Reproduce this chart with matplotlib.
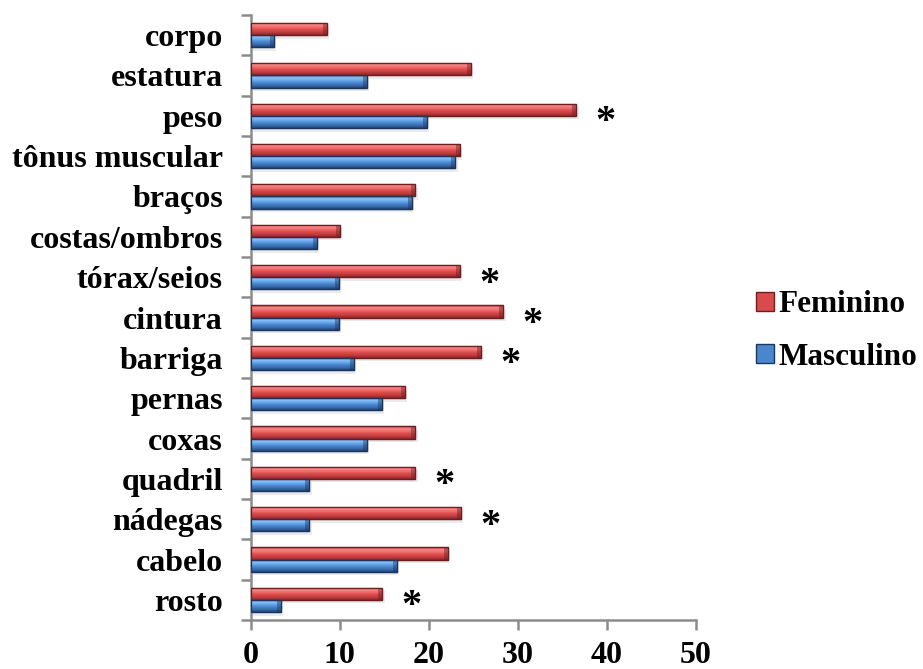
import numpy as np
import matplotlib
matplotlib.use("Agg")
import matplotlib.pyplot as plt
from matplotlib.colors import LinearSegmentedColormap
from matplotlib.patches import Patch

plt.rcParams['font.family'] = ['Liberation Serif', 'DejaVu Serif']
plt.rcParams['font.weight'] = 'bold'

categories = ["corpo", "estatura", "peso", "tônus muscular", "braços",
              "costas/ombros", "tórax/seios", "cintura", "barriga", "pernas",
              "coxas", "quadril", "nádegas", "cabelo", "rosto"]
feminino = [8.6, 24.7, 36.6, 23.5, 18.5, 10.0, 23.5, 28.4, 25.9, 17.3,
            18.5, 18.5, 23.6, 22.2, 14.8]
masculino = [2.6, 13.1, 19.8, 23.0, 18.1, 7.4, 9.9, 9.9, 11.6, 14.7,
             13.1, 6.6, 6.6, 16.4, 3.4]
significant = ["peso", "tórax/seios", "cintura", "barriga", "quadril",
               "nádegas", "rosto"]
x_ticks = [0, 10, 20, 30, 40, 50]

# vertical shading for the bevelled bars (top -> bottom)
red_cmap = LinearSegmentedColormap.from_list(
    "red3d", ["#b8383a", "#f58a88", "#f26a6a", "#d84a4c", "#c03c3e", "#8a2628"])
blue_cmap = LinearSegmentedColormap.from_list(
    "blue3d", ["#3d6fb0", "#8cc4f8", "#6aaaf0", "#4a86cc", "#3a6eae", "#22447a"])

fig = plt.figure(figsize=(9.23, 6.69), dpi=100)
ax = fig.add_axes([0.2716, 0.0732, 0.7537 - 0.2716, 0.9776 - 0.0732])

y = np.arange(len(categories))
h = 0.3


def shaded_bars(ypos, values, cmap, edge):
    grad = np.linspace(0, 1, 64).reshape(-1, 1)
    # soft shadow under each bar
    ax.barh(ypos + 0.09, values, height=h, left=0.25, color="#000000",
            alpha=0.08, linewidth=0, zorder=1)
    bars = ax.barh(ypos, values, height=h, color=cmap(0.5), edgecolor=edge,
                   linewidth=0.9, zorder=2)
    for b in bars:
        x0, yb = b.get_x(), b.get_y()
        w, hh = b.get_width(), b.get_height()
        im = ax.imshow(grad, cmap=cmap, aspect="auto",
                       extent=(x0, x0 + w, yb + hh, yb), zorder=3,
                       interpolation="bilinear")
        im.set_clip_path(b)
        # darker bevel at the right end
        bev = min(0.45, w * 0.3)
        ax.barh(yb + hh / 2, bev, left=x0 + w - bev,
                height=hh, color=edge, alpha=0.45, linewidth=0, zorder=4)
        ax.barh(yb + hh / 2, w, height=hh, fill=False, edgecolor=edge,
                linewidth=0.9, zorder=5)
    return bars


shaded_bars(y - h / 2, feminino, red_cmap, "#6e1e20")
shaded_bars(y + h / 2, masculino, blue_cmap, "#1c3560")

for cat, fv in zip(categories, feminino):
    if cat in significant:
        i = categories.index(cat)
        ax.text(fv + 3.3, i + 0.17, "*", ha="center", va="center",
                fontsize=29, fontweight="bold", color="black", zorder=6)

ax.set_xlim(0, 50)
ax.set_ylim(len(categories) - 0.5, -0.5)
ax.set_xticks(x_ticks)
ax.set_xticklabels([str(t) for t in x_ticks])
ax.set_yticks(y)
ax.set_yticklabels(categories)
ax.set_yticks(np.arange(-0.5, len(categories), 1), minor=True)

gray = "#8c8c8c"
for side in ("top", "right"):
    ax.spines[side].set_visible(False)
for side in ("left", "bottom"):
    ax.spines[side].set_color(gray)
    ax.spines[side].set_linewidth(1.8)

ax.tick_params(axis="y", which="major", length=0, pad=20, labelsize=23)
ax.tick_params(axis="y", which="minor", length=7, width=1.8, color=gray,
               direction="out")
ax.tick_params(axis="x", which="major", length=7, width=1.8, color=gray,
               direction="out", pad=8, labelsize=23)
for lbl in ax.get_xticklabels() + ax.get_yticklabels():
    lbl.set_fontweight("bold")

handles = [Patch(facecolor="#d84a4c", edgecolor="#6e1e20", label="Feminino"),
           Patch(facecolor="#4a86cc", edgecolor="#1c3560", label="Masculino")]
leg = fig.legend(handles=handles, loc="center left",
                 bbox_to_anchor=(0.806, 0.505), frameon=False,
                 prop={"family": "Liberation Serif", "weight": "bold", "size": 22.5},
                 handlelength=0.55, handleheight=0.55, handletextpad=0.15,
                 labelspacing=0.75, borderaxespad=0)

fig.savefig("out.png", dpi=100)
